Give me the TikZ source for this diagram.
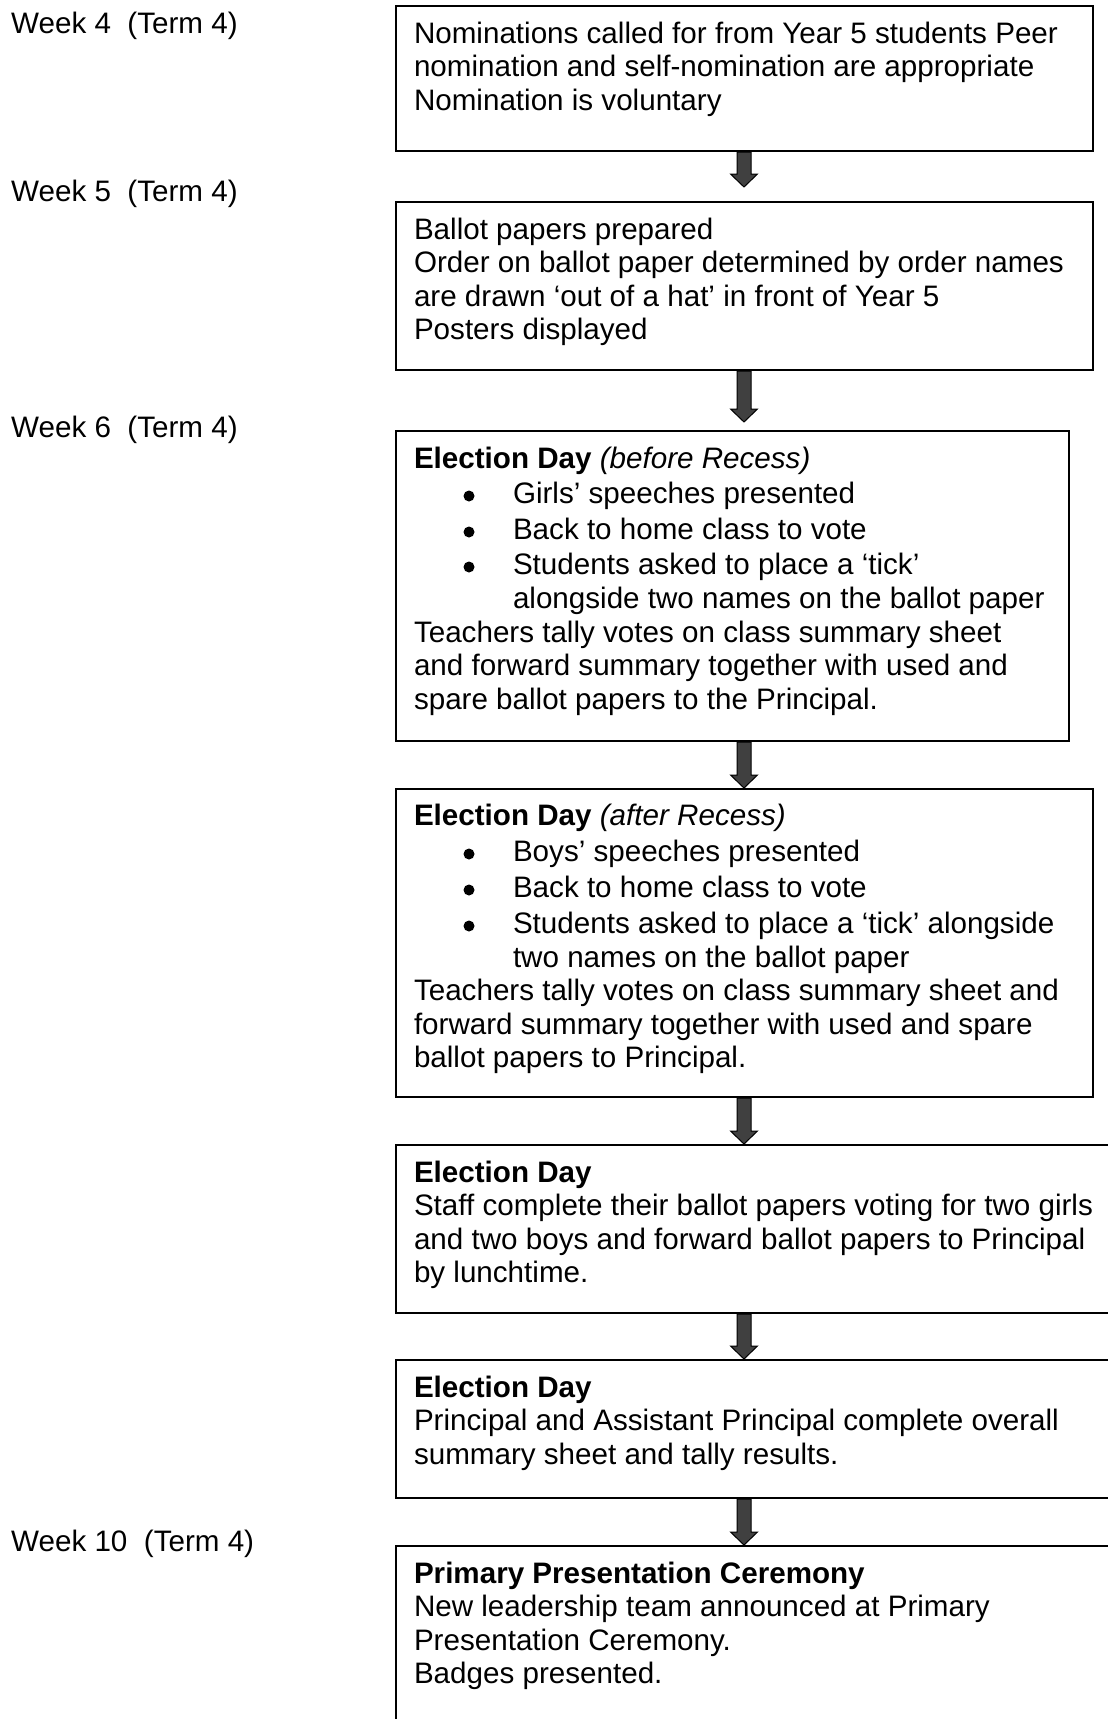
\documentclass[tikz,border=0pt]{standalone}
\usepackage{fontspec}
\setmainfont{Liberation Sans}
\usetikzlibrary{calc}
\definecolor{arrowgray}{RGB}{64,64,64}
\tikzset{
  box/.style={draw=black, line width=2pt, anchor=north west, inner sep=0pt, fill=none},
  txt/.style={anchor=base west, inner sep=0pt, outer sep=0pt},
  lbl/.style={anchor=base west, inner sep=0pt, font=\fontsize{29.6pt}{33.5pt}\selectfont},
  blockarrowstyle/.style={fill=arrowgray, draw=black, line width=1pt, line join=miter},
  bulletdot/.style={fill=black}
}
\newcommand\boxtext[1]{\parbox[t]{1000pt}{\raggedright\fontsize{29.6pt}{33.5pt}\selectfont #1}}
\newcommand\blockarrow[2]{\path[blockarrowstyle] let \p1=(#1), \p2=(#2) in
  (\x1-7pt,\y1) -- (\x1+7pt,\y1) -- (\x1+7pt,\y2+13pt) -- (\x1+13.5pt,\y2+13pt)
  -- (\x1,\y2) -- (\x1-13.5pt,\y2+13pt) -- (\x1-7pt,\y2+13pt) -- cycle;}
\begin{document}
\begin{tikzpicture}[x=1pt,y=-1pt]
\fill[white] (0,0) rectangle (1108,1719);
\useasboundingbox (0,0) rectangle (1108,1719);

% week labels
\node[lbl] (w4) at (11,33) {Week 4\ \ (Term 4)};
\node[lbl] (w5) at (11,201) {Week 5\ \ (Term 4)};
\node[lbl] (w6) at (11,437) {Week 6\ \ (Term 4)};
\node[lbl] (w10) at (11,1551) {Week 10\ \ (Term 4)};

% boxes
\node[box, minimum width=697pt, minimum height=145pt] (b1) at (395,5) {};
\node[box, minimum width=697pt, minimum height=168pt] (b2) at (395,201) {};
\node[box, minimum width=673pt, minimum height=310pt] (b3) at (395,430) {};
\node[box, minimum width=697pt, minimum height=308pt] (b4) at (395,788) {};
\node[box, minimum width=730pt, minimum height=168pt] (b5) at (395,1144) {};
\node[box, minimum width=730pt, minimum height=138pt] (b6) at (395,1359) {};
\node[box, minimum width=730pt, minimum height=200pt] (b7) at (395,1545) {};

% arrows
\coordinate (ax) at (744,0);
\blockarrow{b1.south -| ax}{$(b2.north -| ax)+(0,-14)$}
\blockarrow{b2.south -| ax}{$(b3.north -| ax)+(0,-8)$}
\blockarrow{b3.south -| ax}{b4.north -| ax}
\blockarrow{b4.south -| ax}{b5.north -| ax}
\blockarrow{b5.south -| ax}{b6.north -| ax}
\blockarrow{b6.south -| ax}{b7.north -| ax}

% texts
\node[txt] (t1) at (414,43) {\boxtext{%
Nominations called for from Year 5 students Peer\\
nomination and self-nomination are appropriate\\
Nomination is voluntary}};

\node[txt] (t2) at (414,239) {\boxtext{%
Ballot papers prepared\\
Order on ballot paper determined by order names\\
are drawn ‘out of a hat’ in front of Year 5\\
Posters displayed}};

\node[txt] (t3) at (414,468) {\boxtext{%
\textbf{Election Day} \textit{(before Recess)}\\[2pt]
\hspace*{99pt}Girls’ speeches presented\\[2.5pt]
\hspace*{99pt}Back to home class to vote\\[1.5pt]
\hspace*{99pt}Students asked to place a ‘tick’\\[0.5pt]
\hspace*{99pt}alongside two names on the ballot paper\\
Teachers tally votes on class summary sheet\\
and forward summary together with used and\\
spare ballot papers to the Principal.}};
\fill[bulletdot] (469,496) circle (5.5);
\fill[bulletdot] (469,532) circle (5.5);
\fill[bulletdot] (469,567) circle (5.5);

\node[txt] (t4) at (414,825) {\boxtext{%
\textbf{Election Day} \textit{(after Recess)}\\[2.5pt]
\hspace*{99pt}Boys’ speeches presented\\[2.5pt]
\hspace*{99pt}Back to home class to vote\\[2.5pt]
\hspace*{99pt}Students asked to place a ‘tick’ alongside\\[0.5pt]
\hspace*{99pt}two names on the ballot paper\\
Teachers tally votes on class summary sheet and\\
forward summary together with used and spare\\
ballot papers to Principal.}};
\fill[bulletdot] (469,854) circle (5.5);
\fill[bulletdot] (469,890) circle (5.5);
\fill[bulletdot] (469,926) circle (5.5);

\node[txt] (t5) at (414,1182) {\boxtext{%
\textbf{Election Day}\\
Staff complete their ballot papers voting for two girls\\
and two boys and forward ballot papers to Principal\\
by lunchtime.}};

\node[txt] (t6) at (414,1397) {\boxtext{%
\textbf{Election Day}\\
Principal and Assistant Principal complete overall\\
summary sheet and tally results.}};

\node[txt] (t7) at (414,1583) {\boxtext{%
\textbf{Primary Presentation Ceremony}\\
New leadership team announced at Primary\\
Presentation Ceremony.\\
Badges presented.}};
\end{tikzpicture}
\end{document}
